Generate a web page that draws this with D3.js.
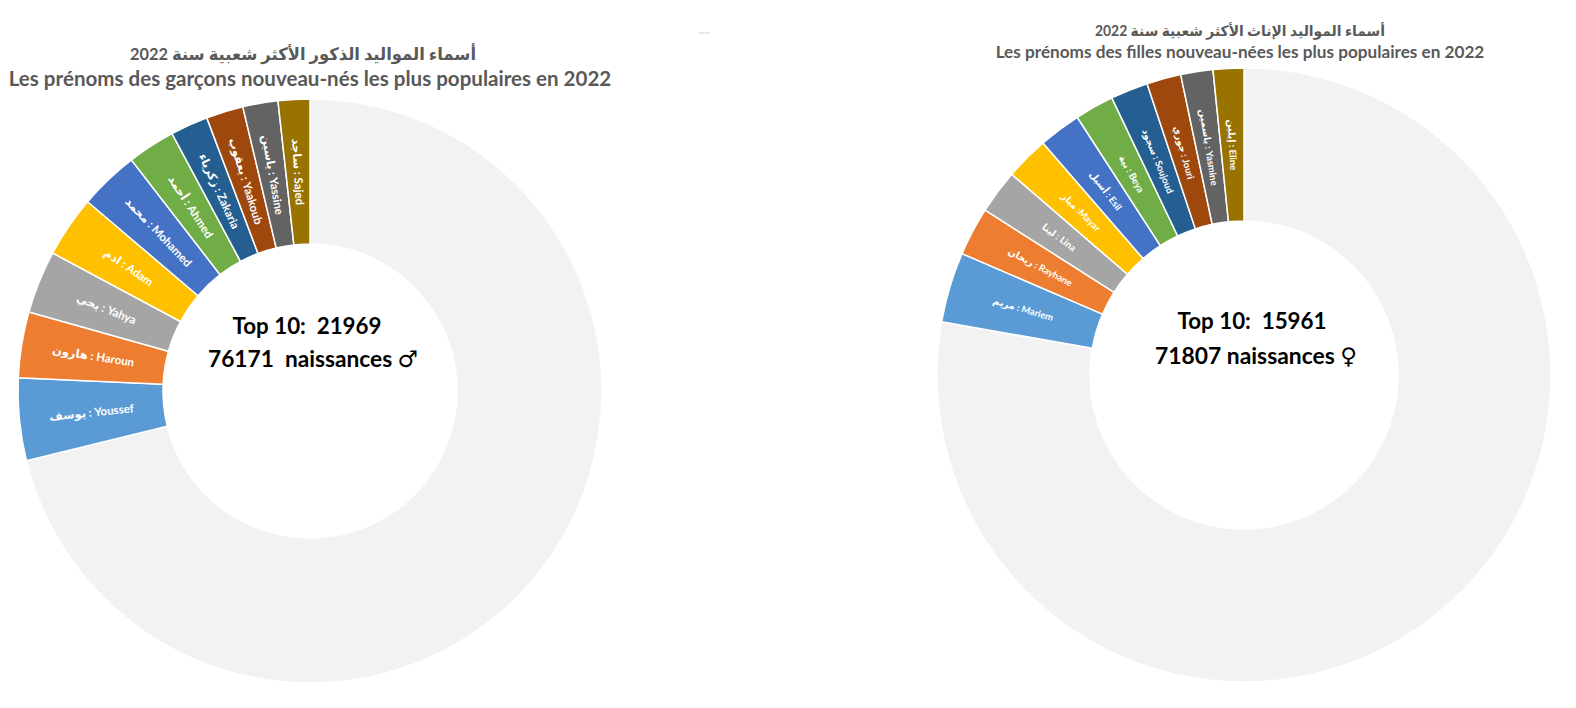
<!DOCTYPE html>
<html><head><meta charset="utf-8">
<script src="https://cdn.jsdelivr.net/npm/d3@7"></script>
<style>body{margin:0;background:#fff} svg{display:block}</style>
</head><body><svg id="c" width="1576" height="708"></svg>
<script>
// ---- data ----
const boyNames   = ["Youssef","Haroun","Yahya","Adam","Mohamed","Ahmed","Zakaria","Yaakoub","Yassine","Sajed"];
const boyNamesAr = ["يوسف","هارون","يحي","ادم","محمد","أحمد","زكرياء","يعقوب","ياسين","ساجد"];
const boyValues  = [3476,2772,2645,2581,2518,2010,1587,1566,1481,1333];
const boyTop10   = 21969;
const boyTotal   = 76171;

const girlNames   = ["Mariem","Rayhane","Lina","Mayar","Esil","Beya","Soujoud","Jouri","Yasmine","Eline"];
const girlNamesAr = ["مريم","ريحان","لينا","ميار","أسيل","بية","سجود","جوري","ياسمين","إيلين"];
const girlSeps    = [" : "," : "," : "," :"," : "," : "," : "," : "," : "," : "];
const girlValues  = [2655,1835,1665,1647,1596,1476,1416,1297,1217,1157];
const girlTop10   = 15961;
const girlTotal   = 71807;

const sliceColors = ["#5B9BD5","#ED7D31","#A5A5A5","#FFC000","#4472C4","#70AD47","#255E91","#9E480E","#636363","#997300"];
const otherColor  = "#F2F2F2";

const boyTitleAr  = "أسماء المواليد الذكور الأكثر شعبية سنة 2022";
const boyTitleFr  = "Les prénoms des garçons nouveau-nés les plus populaires en 2022";
const girlTitleAr = "أسماء المواليد الإناث الأكثر شعبية سنة 2022";
const girlTitleFr = "Les prénoms des filles nouveau-nées les plus populaires en 2022";

// ---- drawing ----
const svg = d3.select("#c");
const FONT = "Lato, 'DejaVu Sans', sans-serif";

function fitText(sel, target) {
  const w = sel.node().getComputedTextLength();
  const fs = parseFloat(sel.attr("font-size"));
  sel.attr("font-size", (fs * target / w).toFixed(2));
}

function donut(opt) {
  const g = svg.append("g").attr("transform", `translate(${opt.cx},${opt.cy})`);
  const sum = d3.sum(opt.values);
  const data = [{name: null, value: opt.total - sum, color: otherColor}]
    .concat(opt.values.map((v, i) => ({name: opt.names[i], ar: opt.ar[i], sep: opt.seps ? opt.seps[i] : " : ", value: v, color: sliceColors[i]})));
  const pie = d3.pie().sort(null).value(d => d.value).startAngle(0).endAngle(2 * Math.PI);
  const arc = d3.arc().innerRadius(opt.r).outerRadius(opt.R);
  const arcs = pie(data);
  g.selectAll("path").data(arcs).join("path")
    .attr("d", arc).attr("fill", d => d.data.color)
    .attr("stroke", "#fff").attr("stroke-width", 1.5);
  g.selectAll("text.lbl").data(arcs.filter(d => d.data.name)).join("text")
    .attr("class", "lbl")
    .attr("transform", d => {
      const [x, y] = arc.centroid(d);
      const m = (d.startAngle + d.endAngle) / 2 * 180 / Math.PI;
      const rot = m > 180 ? m - 270 : m - 90;
      return `translate(${x},${y}) rotate(${rot})`;
    })
    .attr("text-anchor", "middle").attr("dy", "0.35em")
    .attr("direction", "ltr")
    .attr("font-family", FONT).attr("font-weight", "bold")
    .attr("font-size", opt.labelSize).attr("fill", "#fff")
    .text(d => d.data.ar + d.data.sep + d.data.name);
}

donut({cx: 310, cy: 391, R: 292, r: 147, names: boyNames, ar: boyNamesAr, values: boyValues, total: boyTotal, labelSize: 11.5});
donut({cx: 1244, cy: 375, R: 307, r: 154, names: girlNames, ar: girlNamesAr, seps: girlSeps, values: girlValues, total: girlTotal, labelSize: 9.5});

// titles
function title(x, y, txt, size, target, dir, squeeze) {
  const t = svg.append("text").attr("x", x).attr("y", y)
    .attr("text-anchor", "middle").attr("direction", dir)
    .attr("font-family", FONT).attr("font-weight", "bold")
    .attr("font-size", size).attr("fill", "#595959").text(txt);
  if (squeeze) t.attr("textLength", target).attr("lengthAdjust", "spacingAndGlyphs");
  else fitText(t, target);
}
title(303, 60, boyTitleAr, 17, 346, "rtl", true);
title(310, 86, boyTitleFr, 18, 603, "ltr", false);
title(1240, 36, girlTitleAr, 14.5, 290, "rtl", true);
title(1240, 58, girlTitleFr, 15, 489, "ltr", false);

// centre texts
function centre(x, y, txt, target) {
  const t = svg.append("text").attr("x", x).attr("y", y)
    .attr("text-anchor", "middle").style("white-space", "pre")
    .attr("font-family", FONT).attr("font-weight", "bold")
    .attr("font-size", 22).attr("fill", "#000").text(txt);
  fitText(t, target);
}
centre(307, 334, `Top 10:  ${boyTop10}`, 149);
centre(313, 367, `${boyTotal}  naissances \u2642`, 210);
centre(1252, 329, `Top 10:  ${girlTop10}`, 149);
centre(1256, 364, `${girlTotal} naissances \u2640`, 202);

// small stray mark near top centre
svg.append("line").attr("x1", 699).attr("x2", 710).attr("y1", 33).attr("y2", 33)
  .attr("stroke", "#d0d0d0").attr("stroke-width", 1);
</script>
</body></html>
